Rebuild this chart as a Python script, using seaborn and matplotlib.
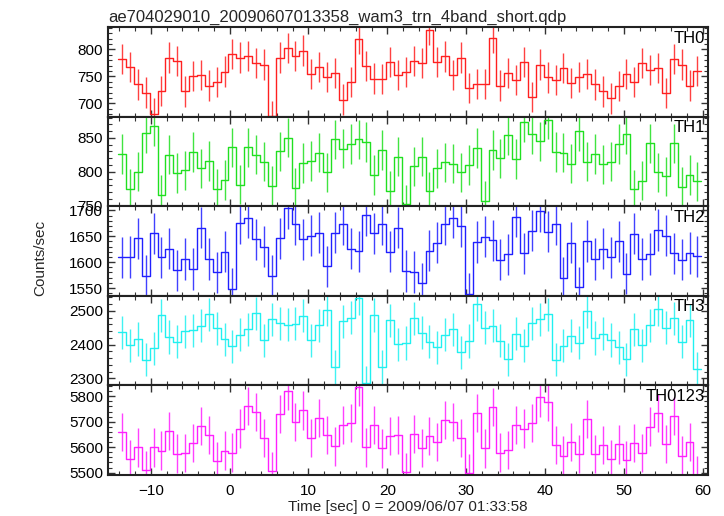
import numpy as np
import pandas as pd
import matplotlib
matplotlib.use("Agg")
import matplotlib.pyplot as plt
from matplotlib.ticker import MultipleLocator
import seaborn as sns

sns.set_theme(style="white")
plt.rcParams['font.family'] = ['Liberation Sans', 'DejaVu Sans']

title = "ae704029010_20090607013358_wam3_trn_4band_short.qdp"
xlabel = "Time [sec] 0 = 2009/06/07 01:33:58"
ylabel = "Counts/sec"
bands = ["TH0", "TH1", "TH2", "TH3", "TH0123"]
colors = ["#ff2020", "#20e020", "#2020ff", "#20f0f0", "#ff20ff"]

t_first_edge = -14.15
bin_width = 1.0

th0 = [783, 767, 735, 720, 681, 723, 785, 778, 722, 751, 753, 733, 740, 759, 791,
       785, 788, 775, 772, 677, 785, 803, 788, 798, 754, 768, 749, 756, 707, 740,
       820, 770, 746, 745, 777, 753, 758, 779, 775, 836, 777, 787, 752, 785, 729,
       736, 736, 822, 733, 756, 744, 777, 712, 772, 748, 744, 766, 737, 749, 754,
       735, 722, 709, 732, 754, 740, 775, 762, 766, 719, 783, 772, 733, 760]
th1 = [826, 775, 800, 857, 867, 766, 825, 798, 802, 829, 805, 816, 775, 788, 836,
       781, 836, 825, 815, 779, 830, 850, 776, 813, 816, 828, 799, 848, 834, 841,
       848, 844, 795, 832, 772, 822, 752, 808, 822, 771, 805, 814, 812, 799, 810,
       835, 757, 832, 820, 854, 819, 873, 855, 845, 877, 829, 828, 812, 860, 815,
       826, 811, 815, 841, 855, 774, 787, 842, 799, 793, 842, 778, 795, 786]
th2 = [1609, 1610, 1646, 1573, 1656, 1609, 1626, 1584, 1606, 1587, 1667, 1606, 1580, 1620, 1548,
       1676, 1686, 1644, 1630, 1573, 1646, 1704, 1673, 1644, 1651, 1657, 1592, 1657, 1673, 1626,
       1621, 1691, 1656, 1674, 1620, 1667, 1583, 1581, 1559, 1622, 1638, 1673, 1686, 1669, 1539,
       1639, 1649, 1642, 1605, 1615, 1688, 1617, 1661, 1699, 1659, 1674, 1569, 1638, 1551, 1641,
       1606, 1626, 1609, 1640, 1578, 1655, 1606, 1616, 1662, 1651, 1617, 1605, 1618, 1611]
th3 = [2437, 2399, 2417, 2355, 2390, 2487, 2423, 2409, 2440, 2443, 2456, 2490, 2449, 2416, 2396,
       2429, 2446, 2493, 2413, 2476, 2464, 2459, 2462, 2486, 2413, 2458, 2504, 2334, 2470, 2480,
       2538, 2287, 2488, 2334, 2472, 2402, 2405, 2478, 2435, 2409, 2393, 2429, 2446, 2377, 2411,
       2520, 2451, 2456, 2412, 2357, 2433, 2397, 2463, 2475, 2490, 2355, 2397, 2427, 2406, 2499,
       2420, 2432, 2414, 2393, 2357, 2446, 2399, 2458, 2505, 2450, 2478, 2409, 2472, 2328]
th0123 = [5659, 5555, 5599, 5511, 5599, 5587, 5663, 5575, 5576, 5617, 5684, 5648, 5547, 5587, 5579,
          5673, 5761, 5739, 5635, 5508, 5731, 5819, 5699, 5744, 5637, 5715, 5647, 5603, 5688, 5696,
          5835, 5599, 5688, 5595, 5643, 5649, 5501, 5652, 5597, 5643, 5621, 5707, 5699, 5635, 5497,
          5733, 5595, 5759, 5579, 5588, 5688, 5673, 5696, 5795, 5779, 5609, 5567, 5619, 5573, 5711,
          5572, 5608, 5552, 5611, 5550, 5615, 5577, 5681, 5733, 5613, 5721, 5567, 5621, 5491]
errors = [28, 29, 40, 49, 75]

series = [th0, th1, th2, th3, th0123]
ylims = [(675, 841), (749, 881), (1535, 1708), (2280, 2545), (5492, 5843)]
ymajor = [50, 50, 50, 100, 100]
yminor = [10, 10, 10, 20, 20]

fig, axes = plt.subplots(5, 1, sharex=True, figsize=(7.24, 5.16), dpi=100)
fig.subplots_adjust(left=0.149, right=0.978, top=0.947, bottom=0.080, hspace=0)

for ax, name, vals, col, err, yl, ma, mi in zip(axes, bands, series, colors, errors,
                                                 ylims, ymajor, yminor):
    vals = np.asarray(vals, dtype=float)
    n = len(vals)
    edges = t_first_edge + bin_width * np.arange(n + 1)
    centers = 0.5 * (edges[:-1] + edges[1:])
    df = pd.DataFrame({"t": edges, "rate": np.append(vals, vals[-1])})
    sns.lineplot(data=df, x="t", y="rate", drawstyle="steps-post", color=col,
                 lw=1.0, ax=ax, estimator=None, sort=False)
    ax.vlines(centers, vals - err, vals + err, color=col, lw=1.0, alpha=0.85)
    ax.set_ylim(*yl)
    ax.set_xlim(-15.45, 60.7)
    ax.yaxis.set_major_locator(MultipleLocator(ma))
    ax.yaxis.set_minor_locator(MultipleLocator(mi))
    ax.xaxis.set_major_locator(MultipleLocator(10))
    ax.xaxis.set_minor_locator(MultipleLocator(2))
    ax.tick_params(which="both", direction="in", top=True, right=True,
                   bottom=True, left=True, colors="#333333", labelcolor="black",
                   labelsize=11)
    ax.tick_params(axis="x", pad=7)
    ax.tick_params(which="major", length=5, width=1.0)
    ax.tick_params(which="minor", length=3, width=0.8)
    for s in ax.spines.values():
        s.set_color("#222222")
        s.set_linewidth(1.5)
    ax.set_ylabel("")
    ax.set_xlabel("")
    ax.text(0.995, 0.96, name, transform=ax.transAxes, ha="right", va="top",
            fontsize=12, color="black")

axes[-1].set_xlabel(xlabel, fontsize=11, labelpad=1)
fig.text(0.055, 0.5, ylabel, rotation=90, ha="center", va="center", fontsize=11)
axes[0].set_title(title, loc="left", fontsize=12, pad=4)

fig.savefig("out.png", dpi=100)
